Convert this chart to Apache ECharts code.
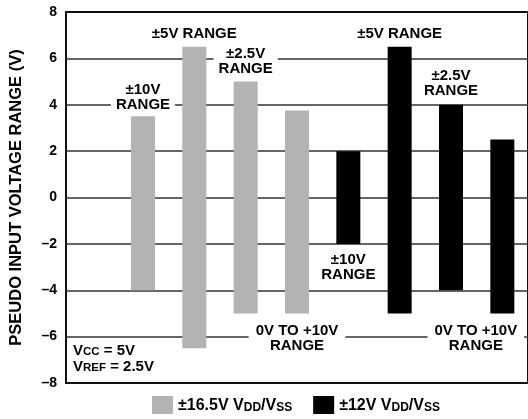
<!DOCTYPE html>
<html>
<head>
<meta charset="utf-8">
<script src="https://cdn.jsdelivr.net/npm/echarts@6/dist/echarts.min.js"></script>
<style>
  html, body { margin: 0; padding: 0; background: #fff; }
  #chart { width: 528px; height: 419px; }
</style>
</head>
<body>
<div id="chart"></div>
<script>
// Input ranges, one slot per bar; slot 0 is an empty leading slot.
const categories = ['', '±10V @ ±16.5V', '±5V @ ±16.5V', '±2.5V @ ±16.5V', '0V TO +10V @ ±16.5V',
                    '±10V @ ±12V', '±5V @ ±12V', '±2.5V @ ±12V', '0V TO +10V @ ±12V'];
const rangeLow  = [null, -4, -6.5, -5, -5, -2, -5, -4, -5];
const rangeHigh = [null, 3.5, 6.5, 5, 3.75, 2, 6.5, 4, 2.5];
// Which supply each slot belongs to (0 = ±16.5V, 1 = ±12V)
const supplyIndex = [null, 0, 0, 0, 0, 1, 1, 1, 1];
const supplyNames = ['±16.5V VDD/VSS', '±12V VDD/VSS'];
const rangeLabels = ['', '±10V\nRANGE', '±5V RANGE', '±2.5V\nRANGE', '0V TO +10V\nRANGE',
                     '±10V\nRANGE', '±5V RANGE', '±2.5V\nRANGE', '0V TO +10V\nRANGE'];
const yTicks = [-8, -6, -4, -2, 0, 2, 4, 6, 8];

const FONT = '"Liberation Sans", Arial, Helvetica, sans-serif';
const supplyColors = ['#b3b3b3', '#000000'];

// Where each range caption sits relative to its bar
const labelPlacement = {
  1: { position: 'top', distance: 3, padding: [1, 5, 1, 5] },
  2: { position: 'top', distance: 4, padding: [1, 5, 1, 5] },
  3: { position: 'top', distance: 4, padding: [1, 5, 1, 5] },
  4: { position: 'bottom', distance: 9, padding: [1, 7, 1, 7] },
  5: { position: 'bottom', distance: 7, padding: [1, 5, 1, 5] },
  6: { position: 'top', distance: 4, padding: [1, 5, 1, 5] },
  7: { position: 'top', distance: 5, padding: [1, 5, 1, 5] },
  8: { position: 'bottom', distance: 9, padding: [1, 7, 1, 7], offset: [-26.5, 0] }
};

// Bar height above the invisible base; slots of the other supply get a
// zero-height entry so the shared stack stays continuous.
function spanData(supply) {
  return categories.map((c, i) => {
    if (supplyIndex[i] === null) return '-';
    if (supplyIndex[i] !== supply) return 0;
    const pl = labelPlacement[i];
    return {
      value: rangeHigh[i] - rangeLow[i],
      label: {
        show: true,
        formatter: rangeLabels[i],
        position: pl.position,
        distance: pl.distance,
        padding: pl.padding,
        offset: pl.offset || [0, 0],
        backgroundColor: '#ffffff',
        color: '#000',
        fontFamily: FONT,
        fontWeight: 'bold',
        fontSize: 15,
        lineHeight: 15,
        align: 'center'
      }
    };
  });
}

const subRich = {
  m: { fontFamily: FONT, fontWeight: 'bold', fontSize: 16, lineHeight: 18, verticalAlign: 'bottom', color: '#000' },
  s: { fontFamily: FONT, fontWeight: 'bold', fontSize: 12, lineHeight: 7, verticalAlign: 'bottom', color: '#000' }
};
function withSubscripts(name) {
  return name.replace(/V(DD|SS)/g, '\u0001$1\u0002')
    .split(/(\u0001[A-Z]+\u0002)/)
    .filter(p => p.length)
    .map(p => p[0] === '\u0001' ? '{m|V}{s|' + p.slice(1, -1) + '}' : '{m|' + p + '}')
    .join('');
}

const chart = echarts.init(document.getElementById('chart'), null, { renderer: 'canvas' });

chart.setOption({
  animation: false,
  backgroundColor: '#ffffff',
  grid: {
    left: 64, top: 12, width: 466, height: 371,
    show: true, borderColor: '#111', borderWidth: 2, backgroundColor: 'transparent'
  },
  legend: {
    left: 152, top: 396, padding: 0,
    itemWidth: 21, itemHeight: 18, itemGap: 21,
    icon: 'rect',
    data: supplyNames,
    formatter: withSubscripts,
    textStyle: { fontFamily: FONT, fontWeight: 'bold', fontSize: 16, color: '#000', rich: subRich }
  },
  xAxis: {
    type: 'category',
    data: categories,
    axisLine: { show: false },
    axisTick: { show: false },
    axisLabel: { show: false },
    splitLine: { show: false }
  },
  yAxis: {
    type: 'value',
    min: yTicks[0], max: yTicks[yTicks.length - 1], interval: 2,
    name: 'PSEUDO INPUT VOLTAGE RANGE (V)',
    nameLocation: 'middle',
    nameGap: 41,
    nameTextStyle: { fontFamily: FONT, fontWeight: 'bold', fontSize: 16.5, color: '#000' },
    axisLine: { show: false },
    axisTick: { show: false },
    axisLabel: {
      margin: 9,
      fontFamily: FONT, fontWeight: 'bold', fontSize: 14, color: '#000',
      formatter: v => String(v).replace('-', '\u2013')
    },
    splitLine: { show: true, showMinLine: false, showMaxLine: false, lineStyle: { color: '#333333', width: 1.6 } }
  },
  graphic: [{
    type: 'text',
    left: 73, top: 343,
    style: {
      text: '{m|V}{s|CC}{m| = 5V}\n{m|V}{s|REF}{m| = 2.5V}',
      rich: {
        m: { fontFamily: FONT, fontWeight: 'bold', fontSize: 15, lineHeight: 16, verticalAlign: 'bottom', fill: '#000' },
        s: { fontFamily: FONT, fontWeight: 'bold', fontSize: 11.5, lineHeight: 5, verticalAlign: 'bottom', fill: '#000' }
      },
      fill: '#000'
    }
  }],
  series: [
    {
      name: 'base',
      type: 'bar',
      stack: 'range',
      stackStrategy: 'all',
      barWidth: 24,
      itemStyle: { color: 'rgba(0,0,0,0)' },
      emphasis: { disabled: true },
      data: rangeLow.map(v => v === null ? '-' : v)
    },
    {
      name: supplyNames[0],
      type: 'bar',
      stack: 'range',
      stackStrategy: 'all',
      barWidth: 24,
      itemStyle: { color: supplyColors[0] },
      data: spanData(0)
    },
    {
      name: supplyNames[1],
      type: 'bar',
      stack: 'range',
      stackStrategy: 'all',
      barWidth: 24,
      itemStyle: { color: supplyColors[1] },
      data: spanData(1)
    }
  ]
});
</script>
</body>
</html>
